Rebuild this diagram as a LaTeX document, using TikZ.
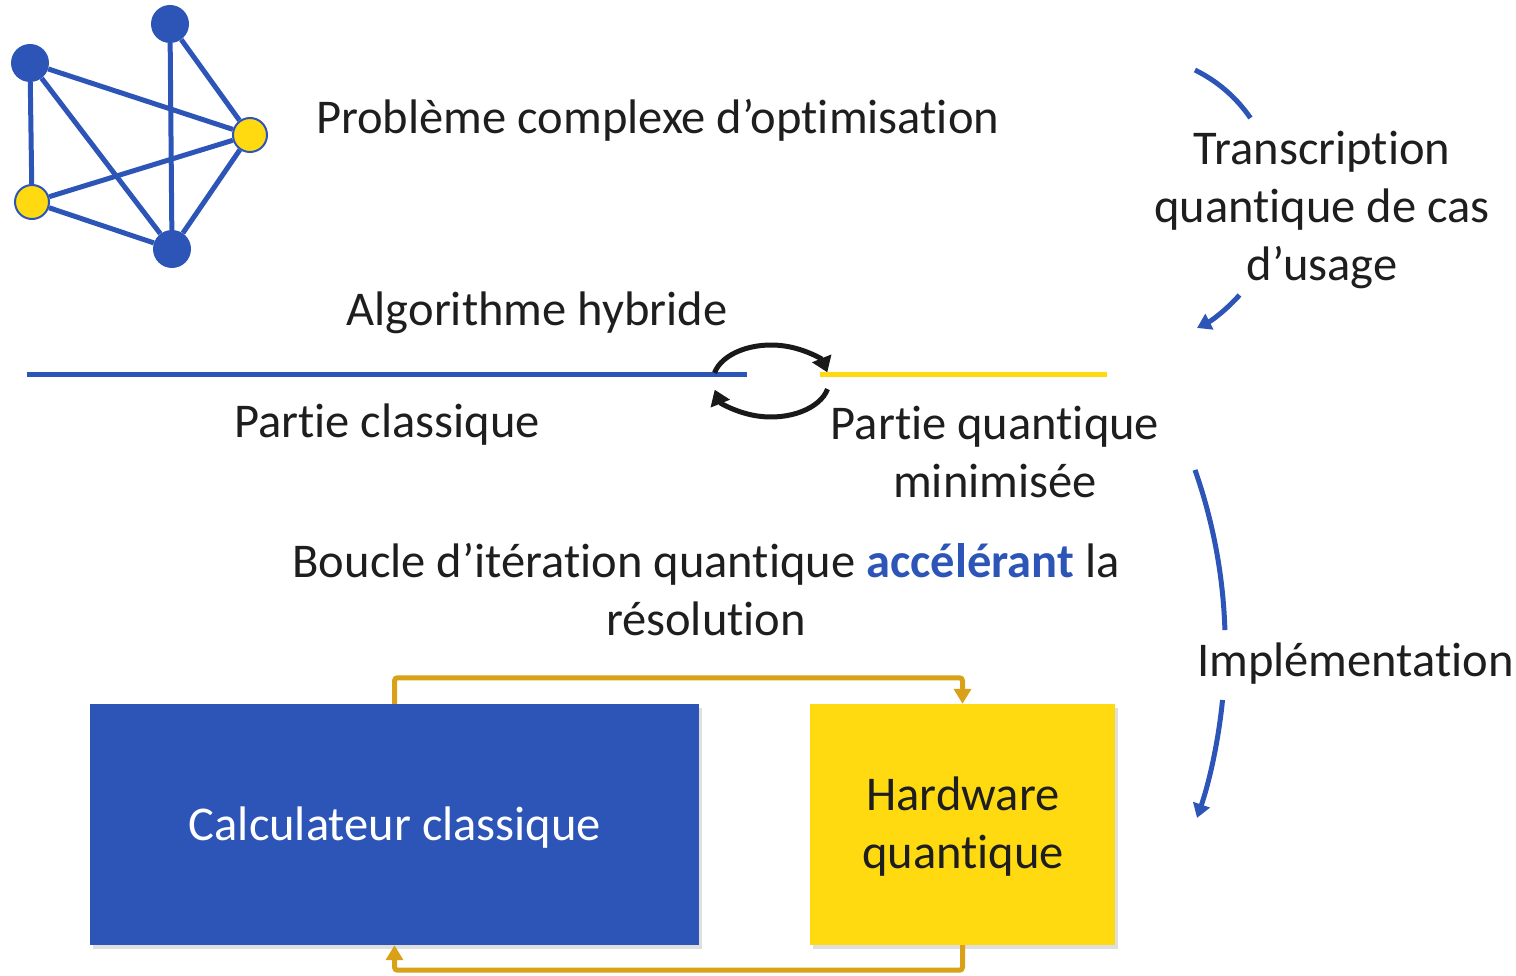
\documentclass[tikz,border=0pt]{standalone}
\usepackage{fontspec}
\setmainfont{Carlito}[Ligatures={NoCommon,NoContextual,NoRequired}, Contextuals={NoAlternate}]
\usetikzlibrary{arrows.meta,shadows}
\definecolor{qblue}{HTML}{2D55B8}
\definecolor{qyellow}{HTML}{FFDA10}
\definecolor{qorange}{HTML}{D9A117}
\definecolor{qtext}{HTML}{1E1E1E}
\newcommand{\tI}{t\kern0pt i}
\begin{document}
\begin{tikzpicture}[x=1pt,y=1pt,
  txt/.style={font=\fontsize{48.5}{58}\selectfont, text=qtext, inner sep=0pt, align=center},
  gedge/.style={draw=qblue, line width=5pt},
  bnode/.style={circle, fill=qblue, minimum size=38pt, inner sep=0pt},
  ynode/.style={circle, fill=qyellow, draw=qblue, line width=2pt, minimum size=34pt, inner sep=0pt},
  boxstyle/.style={inner sep=0pt,
    drop shadow={opacity=0.25, shadow xshift=3pt, shadow yshift=-4pt}},
  loop/.style={draw=qorange, line width=5pt, rounded corners=3pt, -{Triangle[width=17pt,length=15pt]}},
  cyc/.style={draw=black!90, line width=5pt, -{Triangle[width=20pt,length=15pt]}},
  bluearc/.style={draw=qblue, line width=5pt},
  bluetip/.style={-{Triangle[width=17pt,length=14pt]}}]
\useasboundingbox (0,0) rectangle (1516,-976);

% graph
\node[bnode] (ga) at (30,-63) {};
\node[bnode] (gb) at (170,-24) {};
\node[ynode] (gc) at (250,-135) {};
\node[ynode] (gd) at (32,-202) {};
\node[bnode] (ge) at (172,-249) {};
\draw[gedge] (ga) -- (gd);
\draw[gedge] (ga) -- (gc);
\draw[gedge] (ga) -- (ge);
\draw[gedge] (gb) -- (gc);
\draw[gedge] (gb) -- (ge);
\draw[gedge] (gd) -- (gc);
\draw[gedge] (gd) -- (ge);
\draw[gedge] (gc) -- (ge);

% texts
\node[txt, anchor=west] (prob) at (316,-120) {Problème complexe d’op\tI misation};
\node[txt] (algo) at (537,-313) {Algorithme hybride};
\node[txt] (pc) at (387,-425) {Par\tI e classique};
\node[txt] (pq) at (995,-452) {Par\tI e quan\tI que\\minimisée};
\node[txt] (boucle) at (706,-590) {Boucle d’itération quan\tI que {\bfseries\color{qblue}accélérant} la\\résolution};

% hybrid lines
\coordinate (bl1) at (27,-375);
\coordinate (bl2) at (747,-375);
\coordinate (yl1) at (820,-375);
\coordinate (yl2) at (1107,-375);
\draw[qblue, line width=5pt] (bl1) -- (bl2);
\draw[qyellow, line width=5pt] (yl1) -- (yl2);

% cycle arrows
\coordinate (cc) at (771,-381);
\draw[cyc] ([shift={(167:58 and 36)}]cc) arc[start angle=167, end angle=14, x radius=58, y radius=36];
\draw[cyc] ([shift={(-13:58 and 36)}]cc) arc[start angle=-13, end angle=-166, x radius=58, y radius=36];

% boxes
\node[boxstyle, fill=qblue, minimum width=609pt, minimum height=241pt] (calc) at (394.5,-824.5) {};
\node[boxstyle, fill=qyellow, minimum width=305pt, minimum height=241pt] (hw) at (962.5,-824.5) {};
\node[txt, text=white] (calctxt) at (395,-828) {Calculateur classique};
\node[txt] (hwtxt) at (963,-827) {Hardware\\quan\tI que};

\draw[loop] (calc.north) -- ++(0,26) -| (hw.north);
\draw[loop] (hw.south) -- ++(0,-25) -| (calc.south);

% right side
\coordinate (c1) at (1131.5,-199.5);
\draw[bluearc] ([shift={(63.9:144.2)}]c1) arc[start angle=63.9, end angle=34.4, radius=144.2];
\draw[bluearc, bluetip] ([shift={(-41.5:144.2)}]c1) arc[start angle=-41.5, end angle=-63, radius=144.2];
\node[txt] (trans) at (1322,-210) {Transcrip\tI on\\quan\tI que de cas\\d’usage};

\coordinate (c2) at (691.4,-646.9);
\draw[bluearc] ([shift={(19.36:533.8)}]c2) arc[start angle=19.36, end angle=1.81, radius=533.8];
\draw[bluearc, bluetip] ([shift={(-5.71:533.8)}]c2) arc[start angle=-5.71, end angle=-18.69, radius=533.8];
\node[txt, anchor=west] (impl) at (1197,-664) {Implémenta\tI on};
\end{tikzpicture}
\end{document}
